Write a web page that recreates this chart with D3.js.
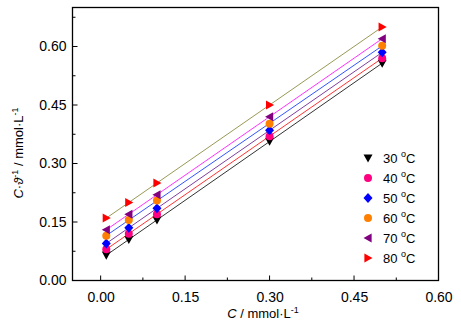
<!DOCTYPE html>
<html><head><meta charset="utf-8">
<script src="https://cdn.jsdelivr.net/npm/d3@7"></script>
<style>body{margin:0;background:#fff}svg{display:block}text{font-family:"Liberation Sans",Arial,sans-serif}</style>
</head><body><svg id="c" width="461" height="328"></svg>
<script>
const xValues = [0.01, 0.05, 0.10, 0.30, 0.50];
const series30 = [0.065, 0.105, 0.155, 0.357, 0.557];
const series40 = [0.080, 0.120, 0.170, 0.370, 0.570];
const series50 = [0.095, 0.135, 0.185, 0.385, 0.585];
const series60 = [0.115, 0.155, 0.205, 0.402, 0.602];
const series70 = [0.130, 0.170, 0.220, 0.420, 0.620];
const series80 = [0.160, 0.200, 0.250, 0.450, 0.650];
const seriesNames = ["30", "40", "50", "60", "70", "80"];
const xTicks = [0.00, 0.15, 0.30, 0.45, 0.60];
const yTicks = [0.00, 0.15, 0.30, 0.45, 0.60];

const allSeries = [series30, series40, series50, series60, series70, series80];
const markerColors = ["#000000", "#ff0080", "#0000ff", "#ff8000", "#800080", "#ff0000"];
const lineColors = ["#333333", "#ff3333", "#7f3f9f", "#3355ff", "#ff33ff", "#999955"];
const markerTypes = ["down", "circle", "diamond", "circle", "left", "right"];

const svg = d3.select("#c");
const L = 72.5, R = 438.5, T = 7.5, B = 280.5;
const x = d3.scaleLinear().domain([-0.05, 0.60]).range([L, R]);
const y = d3.scaleLinear().domain([0, 0.70]).range([B, T]);

function markerPath(type, s) {
  const h = s / 2;
  switch (type) {
    case "down": return `M${-h},${-h*0.8}L${h},${-h*0.8}L0,${h*1.0}Z`;
    case "left": return `M${h*0.8},${-h}L${h*0.8},${h}L${-h},0Z`;
    case "right": return `M${-h*0.8},${-h}L${-h*0.8},${h}L${h},0Z`;
    case "diamond": return `M0,${-h*1.1}L${h},0L0,${h*1.1}L${-h},0Z`;
    default: return d3.symbol(d3.symbolCircle, s * s * 0.62)();
  }
}

// fit lines
allSeries.forEach((ys, i) => {
  const n = xValues.length;
  const mx = d3.mean(xValues), my = d3.mean(ys);
  let sxy = 0, sxx = 0;
  for (let k = 0; k < n; k++) { sxy += (xValues[k]-mx)*(ys[k]-my); sxx += (xValues[k]-mx)**2; }
  const b = sxy / sxx, a = my - b * mx;
  const x0 = xValues[0], x1 = xValues[n-1];
  svg.append("line").attr("x1", x(x0)).attr("y1", y(a + b*x0)).attr("x2", x(x1)).attr("y2", y(a + b*x1))
    .attr("stroke", lineColors[i]).attr("stroke-width", 1);
});

// markers
allSeries.forEach((ys, i) => {
  svg.append("g").selectAll("path").data(ys).join("path")
    .attr("transform", (d, k) => `translate(${x(xValues[k])},${y(d)})`)
    .attr("d", markerPath(markerTypes[i], 9))
    .attr("fill", markerColors[i]);
});

// frame
svg.append("rect").attr("x", L).attr("y", T).attr("width", R-L).attr("height", B-T)
  .attr("fill", "none").attr("stroke", "#000").attr("stroke-width", 1.3);

// axes
const xAxis = d3.axisBottom(x).tickValues(xTicks).tickFormat(d3.format(".2f")).tickSize(0).tickPadding(12);
const gx = svg.append("g").attr("transform", `translate(0,${B})`).call(xAxis);
gx.select(".domain").remove();
gx.selectAll("text").attr("font-size", 14).attr("fill", "#000");
// ticks inward
const xMinor = [0.075, 0.225, 0.375, 0.525];
svg.append("g").selectAll("line").data(xTicks.slice(0, 4)).join("line")
  .attr("x1", d => x(d)).attr("x2", d => x(d)).attr("y1", B).attr("y2", B - 5).attr("stroke", "#000");
svg.append("g").selectAll("line").data(xMinor).join("line")
  .attr("x1", d => x(d)).attr("x2", d => x(d)).attr("y1", B).attr("y2", B - 3).attr("stroke", "#000");

const yAxis = d3.axisLeft(y).tickValues(yTicks).tickFormat(d3.format(".2f")).tickSize(0).tickPadding(6);
const gy = svg.append("g").attr("transform", `translate(${L},0)`).call(yAxis);
gy.select(".domain").remove();
gy.selectAll("text").attr("font-size", 14).attr("fill", "#000");
const yMinor = [0.075, 0.225, 0.375, 0.525, 0.675];
svg.append("g").selectAll("line").data(yTicks.slice(1)).join("line")
  .attr("x1", L).attr("x2", L + 5).attr("y1", d => y(d)).attr("y2", d => y(d)).attr("stroke", "#000");
svg.append("g").selectAll("line").data(yMinor).join("line")
  .attr("x1", L).attr("x2", L + 3).attr("y1", d => y(d)).attr("y2", d => y(d)).attr("stroke", "#000");

// axis titles
const xt = svg.append("text").attr("x", 263).attr("y", 318).attr("text-anchor", "middle").attr("font-size", 13);
xt.append("tspan").attr("font-style", "italic").text("C");
xt.append("tspan").text(" / mmol·L");
xt.append("tspan").attr("font-size", 9).attr("dy", -5).text("-1");

const yt = svg.append("text").attr("transform", "translate(23,153) rotate(-90)").attr("text-anchor", "middle").attr("font-size", 13);
yt.append("tspan").attr("font-style", "italic").text("C");
yt.append("tspan").text("·");
yt.append("tspan").attr("font-style", "italic").text("ϑ");
yt.append("tspan").attr("font-size", 9).attr("dy", -5).text("-1");
yt.append("tspan").attr("dy", 5).text(" / mmol·L");
yt.append("tspan").attr("font-size", 9).attr("dy", -5).text("-1");

// legend
seriesNames.forEach((n, i) => {
  const ly = 158 + i * 20;
  svg.append("path").attr("transform", `translate(368,${ly})`).attr("d", markerPath(markerTypes[i], 9)).attr("fill", markerColors[i]);
  const t = svg.append("text").attr("x", 383).attr("y", ly + 5).attr("font-size", 13);
  t.append("tspan").text(n + " ");
  t.append("tspan").attr("font-size", 9).attr("dy", -6).text("o");
  t.append("tspan").attr("dy", 6).text("C");
});
</script></body></html>
